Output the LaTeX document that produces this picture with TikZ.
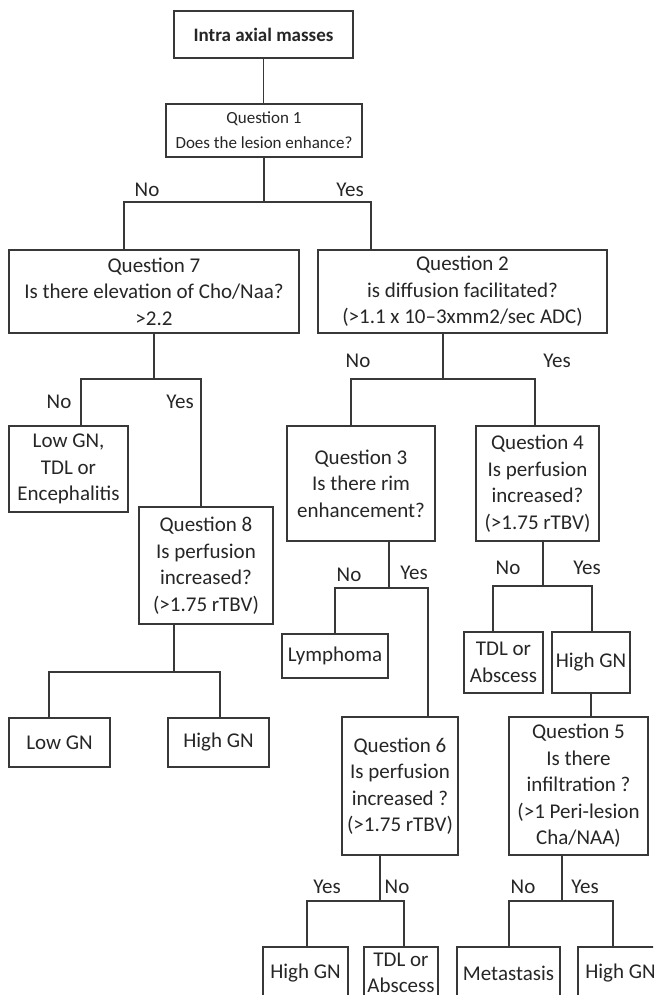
\documentclass[tikz,border=0pt]{standalone}
\usepackage{fontspec}
\setmainfont{Carlito}
\newcommand\qfont{\fontsize{21}{26.5}\selectfont}
\newcommand\qonefont{\fontsize{17}{25}\selectfont}
\newcommand\headfont{\fontsize{19}{23}\selectfont\bfseries}
\begin{document}
\begin{tikzpicture}[x=1pt,y=-1pt,
  wire/.style={draw=black!78, line width=1.2pt},
  box/.style={draw=black!78, line width=1.2pt, rectangle, inner sep=0pt,
              align=center, text=black!85, font=\qfont},
  ans/.style={inner sep=0pt, text=black!85, font=\qfont,
              text height=13.5pt, text depth=0pt},
]
\useasboundingbox (0,0) rectangle (653,995);
\fill[white] (0,0) rectangle (653,995);
\clip (0,0) rectangle (653,995);

% ---- boxes ----
\node[box, font=\headfont, minimum width=179, minimum height=47] (top) at (263.5,34.5) {Intra axial masses};
\node[box, font=\qonefont, minimum width=196, minimum height=53] (q1) at (264,130.5) {Question 1\\Does the lesion enhance?};
\node[box, minimum width=290, minimum height=83] (q7) at (154,291.5) {Question 7\\Is there elevation of Cho/Naa?\\>2.2};
\node[box, minimum width=289, minimum height=83] (q2) at (462.5,291.5) {Question 2\\is diffusion facilitated?\\(>1.1 x 10–3xmm2/sec ADC)};
\node[box, minimum width=119, minimum height=86] (lowtdl) at (68.5,469) {Low GN,\\TDL or\\Encephalitis};
\node[box, minimum width=134, minimum height=117] (q8) at (206,565.5) {Question 8\\Is perfusion\\increased?\\(>1.75 rTBV)};
\node[box, minimum width=101, minimum height=49] (lowgn) at (59.5,742.5) {Low GN};
\node[box, minimum width=101, minimum height=49] (highgnA) at (218.5,742.5) {High GN};
\node[box, minimum width=148, minimum height=115] (q3) at (361,483.5) {Question 3\\Is there rim\\enhancement?};
\node[box, minimum width=123, minimum height=115] (q4) at (537.5,483.5) {Question 4\\Is perfusion\\increased?\\(>1.75 rTBV)};
\node[box, minimum width=106, minimum height=44] (lymph) at (335,656) {Lymphoma};
\node[box, minimum width=79, minimum height=61] (tdlA) at (503.5,662.5) {TDL or\\Abscess};
\node[box, minimum width=78, minimum height=61] (highgnB) at (591,662.5) {High GN};
\node[box, minimum width=116, minimum height=138] (q6) at (400,786) {Question 6\\Is perfusion\\increased ?\\(>1.75 rTBV)};
\node[box, minimum width=139, minimum height=138] (q5) at (578.5,786) {Question 5\\Is there\\infiltration ?\\(>1 Peri-lesion\\Cha/NAA)};
\node[box, minimum width=85, minimum height=52] (highgnC) at (305.5,973) {High GN};
\node[box, minimum width=74, minimum height=52] (tdlB) at (401,973) {TDL or\\Abscess};
\node[box, minimum width=103, minimum height=52] (meta) at (508.5,973) {Metastasis};
\node[box, minimum width=85, minimum height=52] (highgnD) at (620.5,973) {High GN};

% ---- junction points of the branch lines ----
\coordinate (s1) at (264,202);  \coordinate (s1l) at (124,202); \coordinate (s1r) at (371,202);
\coordinate (s7) at (154,379);  \coordinate (s7l) at (81,379);  \coordinate (s7r) at (201,379);
\coordinate (s8) at (174,672);  \coordinate (s8l) at (49,672);  \coordinate (s8r) at (220,672);
\coordinate (s2) at (443,379);  \coordinate (s2l) at (351,379); \coordinate (s2r) at (535,379);
\coordinate (s3) at (389,588);  \coordinate (s3l) at (335,588); \coordinate (s3r) at (428,588);
\coordinate (s4) at (543,586);  \coordinate (s4l) at (493,586); \coordinate (s4r) at (592,586);
\coordinate (s6) at (380,901);  \coordinate (s6l) at (307,901); \coordinate (s6r) at (404,901);
\coordinate (s5) at (562,901);  \coordinate (s5l) at (509,901); \coordinate (s5r) at (613,901);

% ---- connectors ----
\draw[wire] (top.south) -- (top.south |- q1.north);
\draw[wire] (q1.south) -- (s1);
\draw[wire] (s1l |- q7.north) -- (s1l) -- (s1r) -- (s1r |- q2.north);

\draw[wire] (q7.south) -- (s7);
\draw[wire] (s7l |- lowtdl.north) -- (s7l) -- (s7r) -- (s7r |- q8.north);

\draw[wire] (s8 |- q8.south) -- (s8);
\draw[wire] (s8l |- lowgn.north) -- (s8l) -- (s8r) -- (s8r |- highgnA.north);

\draw[wire] (s2 |- q2.south) -- (s2);
\draw[wire] (s2l |- q3.north) -- (s2l) -- (s2r) -- (s2r |- q4.north);

\draw[wire] (s3 |- q3.south) -- (s3);
\draw[wire] (s3l |- lymph.north) -- (s3l) -- (s3r) -- (s3r |- q6.north);

\draw[wire] (s4 |- q4.south) -- (s4);
\draw[wire] (s4l |- tdlA.north) -- (s4l) -- (s4r) -- (s4r |- highgnB.north);

\draw[wire] (highgnB.south) -- (highgnB.south |- q5.north);

\draw[wire] (s6 |- q6.south) -- (s6);
\draw[wire] (s6l |- highgnC.north) -- (s6l) -- (s6r) -- (s6r |- tdlB.north);

\draw[wire] (s5 |- q5.south) -- (s5);
\draw[wire] (s5l |- meta.north) -- (s5l) -- (s5r) -- (s5r |- highgnD.north);

% ---- branch answers ----
\node[ans] (a1n) at (147,190) {No};
\node[ans] (a1y) at (350,190) {Yes};
\node[ans] (a7n) at (59,402) {No};
\node[ans] (a7y) at (180,402) {Yes};
\node[ans] (a2n) at (358,361) {No};
\node[ans] (a2y) at (557,361) {Yes};
\node[ans] (a3n) at (349,575) {No};
\node[ans] (a3y) at (414,573) {Yes};
\node[ans] (a4n) at (508,568) {No};
\node[ans] (a4y) at (587,568) {Yes};
\node[ans] (a6y) at (327,887) {Yes};
\node[ans] (a6n) at (397,887) {No};
\node[ans] (a5n) at (523,887) {No};
\node[ans] (a5y) at (585,887) {Yes};
\end{tikzpicture}
\end{document}
